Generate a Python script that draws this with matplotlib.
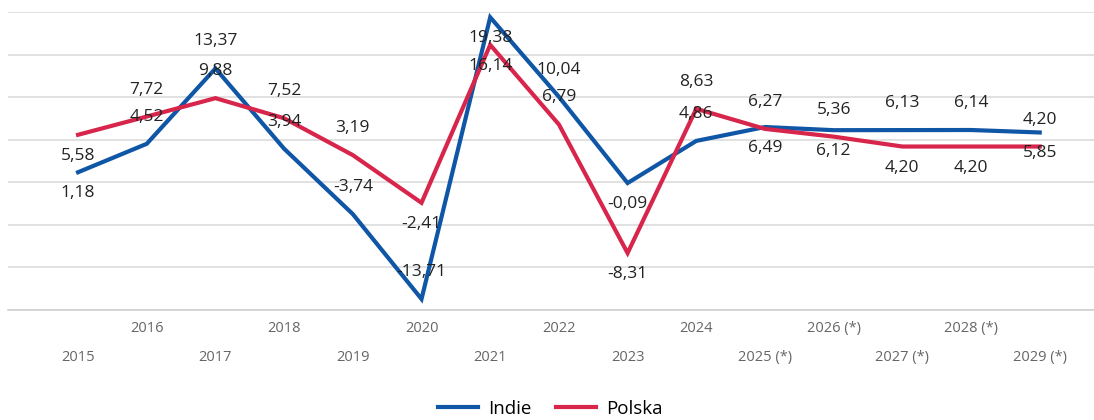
import matplotlib
matplotlib.use("Agg")
import matplotlib.pyplot as plt

plt.rcParams['font.family'] = ['Open Sans', 'DejaVu Sans']

years = ["2015", "2016", "2017", "2018", "2019", "2020", "2021", "2022",
         "2023", "2024", "2025 (*)", "2026 (*)", "2027 (*)", "2028 (*)", "2029 (*)"]
indie = [1.18, 4.52, 13.37, 3.94, -3.74, -13.71, 19.38, 10.04,
         -0.09, 4.86, 6.49, 6.12, 6.13, 6.14, 5.85]
polska = [5.58, 7.72, 9.88, 7.52, 3.19, -2.41, 16.14, 6.79,
          -8.31, 8.63, 6.27, 5.36, 4.20, 4.20, 4.20]

# label placement: +1 above the point, -1 below
indie_pos = [-1, 1, 1, 1, 1, 1, -1, 1, -1, 1, -1, -1, 1, 1, -1]
polska_pos = [-1, 1, 1, 1, 1, -1, -1, 1, -1, 1, 1, 1, -1, -1, 1]

BLUE = "#0f56a6"
RED = "#d7254b"

fig = plt.figure(figsize=(10.94, 4.20), dpi=100)
ax = fig.add_axes([8 / 1094, 110 / 420, 1086 / 1094, 298 / 420])

x = list(range(len(years)))
ax.plot(x, indie, color=BLUE, lw=3.0, label="Indie", solid_joinstyle="miter", zorder=3)
ax.plot(x, polska, color=RED, lw=3.0, label="Polska", solid_joinstyle="miter", zorder=3)

for vals, pos in [(indie, indie_pos), (polska, polska_pos)]:
    for xi, v, p in zip(x, vals, pos):
        dy = 27 if p > 0 else -21
        ax.annotate(f"{v:.2f}".replace(".", ","), (xi, v), xytext=(0, dy),
                    textcoords="offset pixels", ha="center", va="center",
                    fontsize=12.5, color="#222222", zorder=4)

ax.set_xlim(-1.02, 14.79)
ax.set_ylim(-15, 20)
ax.set_yticks([-15, -10, -5, 0, 5, 10, 15, 20])
ax.set_yticklabels([])
ax.tick_params(axis="y", length=0)
ax.grid(axis="y", color="#dcdcdc", lw=1.2)
ax.set_axisbelow(True)

# staggered year labels: even index on the lower row, odd on the upper row
ax.set_xticks(x[0::2])
ax.set_xticklabels(years[0::2])
ax.set_xticks(x[1::2], minor=True)
ax.set_xticklabels(years[1::2], minor=True)
ax.tick_params(axis="x", which="major", length=0, pad=29, labelsize=10.5, labelcolor="#666666")
ax.tick_params(axis="x", which="minor", length=0, pad=8, labelsize=10.5, labelcolor="#666666")

for s in ["top", "left", "right"]:
    ax.spines[s].set_visible(False)
ax.spines["bottom"].set_color("#cfcfcf")
ax.spines["bottom"].set_linewidth(1.2)

fig.legend(loc="center", bbox_to_anchor=(0.503, 11 / 420), ncol=2, frameon=False,
           fontsize=13.5, handlelength=2.13, columnspacing=1.33, handletextpad=0.53)

fig.savefig("out.png", dpi=100)
